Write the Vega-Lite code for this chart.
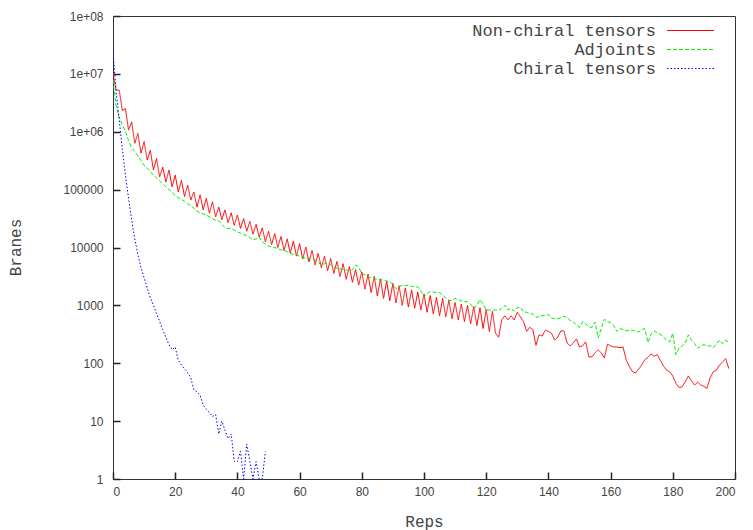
{
  "$schema": "https://vega.github.io/schema/vega-lite/v6.json",
  "width": 622,
  "height": 463,
  "autosize": {"type": "none"},
  "padding": {"left": 113, "top": 16, "right": 18, "bottom": 51},
  "background": "white",
  "config": {
    "view": {"stroke": "#333333", "strokeWidth": 1},
    "axis": {"grid": false, "labelColor": "#444444", "labelFont": "Liberation Sans", "labelFontSize": 12, "titleColor": "#444444", "titleFont": "Liberation Mono", "titleFontSize": 16, "titleFontWeight": "normal"}
  },
  "data": {"values": [
    {"r":0,"n":10000000,"a":7940000,"c":25000000},
    {"r":1,"n":5250000,"a":2820000,"c":5000000},
    {"r":2,"n":5250000,"a":1780000,"c":1600000},
    {"r":3,"n":2340000,"a":1320000,"c":500000},
    {"r":4,"n":2510000,"a":1000000,"c":178000},
    {"r":5,"n":1070000,"a":708000,"c":71000},
    {"r":6,"n":1480000,"a":525000,"c":30000},
    {"r":7,"n":631000,"a":457000,"c":14000},
    {"r":8,"n":933000,"a":380000,"c":7600},
    {"r":9,"n":427000,"a":316000,"c":4470},
    {"r":10,"n":676000,"a":263000,"c":3000},
    {"r":11,"n":324000,"a":234000,"c":2000},
    {"r":12,"n":479000,"a":204000,"c":1350},
    {"r":13,"n":219000,"a":178000,"c":1000},
    {"r":14,"n":347000,"a":158000,"c":720},
    {"r":15,"n":166000,"a":141000,"c":525},
    {"r":16,"n":245000,"a":126000,"c":380},
    {"r":17,"n":135000,"a":112000,"c":280},
    {"r":18,"n":219000,"a":100000,"c":210},
    {"r":19,"n":112000,"a":89100,"c":170},
    {"r":20,"n":178000,"a":79400,"c":190},
    {"r":21,"n":91200,"a":72400,"c":112},
    {"r":22,"n":145000,"a":67600,"c":93},
    {"r":23,"n":75900,"a":63100,"c":80},
    {"r":24,"n":120000,"a":57500,"c":69},
    {"r":25,"n":66100,"a":52500,"c":56},
    {"r":26,"n":91200,"a":47900,"c":35},
    {"r":27,"n":50100,"a":42700,"c":32},
    {"r":28,"n":81300,"a":39800,"c":28},
    {"r":29,"n":44700,"a":38000,"c":19},
    {"r":30,"n":70800,"a":36300,"c":16},
    {"r":31,"n":38900,"a":33900,"c":14},
    {"r":32,"n":61700,"a":31600,"c":12},
    {"r":33,"n":33900,"a":29500,"c":13},
    {"r":34,"n":50100,"a":28800,"c":6},
    {"r":35,"n":30200,"a":25100,"c":10},
    {"r":36,"n":44700,"a":21900,"c":7},
    {"r":37,"n":26900,"a":21400,"c":5},
    {"r":38,"n":39800,"a":21400,"c":6},
    {"r":39,"n":24000,"a":20000,"c":2},
    {"r":40,"n":36300,"a":18600,"c":2},
    {"r":41,"n":21400,"a":17800,"c":3},
    {"r":42,"n":31600,"a":16600,"c":1},
    {"r":43,"n":19100,"a":16200,"c":4},
    {"r":44,"n":28200,"a":14800,"c":2},
    {"r":45,"n":17000,"a":13500,"c":1},
    {"r":46,"n":25100,"a":14100,"c":2},
    {"r":47,"n":15100,"a":15100,"c":1},
    {"r":48,"n":21900,"a":12600,"c":1},
    {"r":49,"n":12600,"a":11500,"c":3},
    {"r":50,"n":19100,"a":10700},
    {"r":51,"n":11200,"a":10200},
    {"r":52,"n":17400,"a":10000},
    {"r":53,"n":10000,"a":9550},
    {"r":54,"n":15500,"a":9120},
    {"r":55,"n":8910,"a":8910},
    {"r":56,"n":14100,"a":8510},
    {"r":57,"n":7940,"a":7940},
    {"r":58,"n":12900,"a":7590},
    {"r":59,"n":7080,"a":7410},
    {"r":60,"n":11700,"a":7080},
    {"r":61,"n":6310,"a":6760},
    {"r":62,"n":10200,"a":6460},
    {"r":63,"n":5620,"a":6310},
    {"r":64,"n":8910,"a":6170},
    {"r":65,"n":5010,"a":6030},
    {"r":66,"n":7940,"a":5500},
    {"r":67,"n":4470,"a":5010},
    {"r":68,"n":7080,"a":5250},
    {"r":69,"n":3980,"a":5370},
    {"r":70,"n":6460,"a":5010},
    {"r":71,"n":3550,"a":4570},
    {"r":72,"n":5750,"a":4370},
    {"r":73,"n":3160,"a":4270},
    {"r":74,"n":5250,"a":4170},
    {"r":75,"n":2820,"a":4070},
    {"r":76,"n":4680,"a":3980},
    {"r":77,"n":2510,"a":4170},
    {"r":78,"n":4170,"a":5010},
    {"r":79,"n":2240,"a":4570},
    {"r":80,"n":3800,"a":3550},
    {"r":81,"n":1910,"a":3390},
    {"r":82,"n":3470,"a":3160},
    {"r":83,"n":1660,"a":2950},
    {"r":84,"n":3160,"a":2880},
    {"r":85,"n":1450,"a":2820},
    {"r":86,"n":2880,"a":2750},
    {"r":87,"n":1320,"a":2750},
    {"r":88,"n":2630,"a":2630},
    {"r":89,"n":1200,"a":2570},
    {"r":90,"n":2400,"a":2290},
    {"r":91,"n":1100,"a":1950},
    {"r":92,"n":2190,"a":2090},
    {"r":93,"n":1000,"a":2240},
    {"r":94,"n":2000,"a":2190},
    {"r":95,"n":933,"a":2240},
    {"r":96,"n":1860,"a":2140},
    {"r":97,"n":891,"a":2090},
    {"r":98,"n":1700,"a":2090},
    {"r":99,"n":832,"a":1780},
    {"r":100,"n":1580,"a":1410},
    {"r":101,"n":759,"a":1580},
    {"r":102,"n":1480,"a":1740},
    {"r":103,"n":708,"a":1700},
    {"r":104,"n":1380,"a":1660},
    {"r":105,"n":661,"a":1660},
    {"r":106,"n":1320,"a":1510},
    {"r":107,"n":631,"a":1350},
    {"r":108,"n":1230,"a":1230},
    {"r":109,"n":589,"a":1200},
    {"r":110,"n":1120,"a":1320},
    {"r":111,"n":562,"a":1260},
    {"r":112,"n":1050,"a":1200},
    {"r":113,"n":525,"a":1170},
    {"r":114,"n":1000,"a":1150},
    {"r":115,"n":479,"a":1050},
    {"r":116,"n":955,"a":891},
    {"r":117,"n":447,"a":1000},
    {"r":118,"n":912,"a":1260},
    {"r":119,"n":398,"a":1050},
    {"r":120,"n":851,"a":832},
    {"r":121,"n":355,"a":832},
    {"r":122,"n":794,"a":832},
    {"r":123,"n":331,"a":832},
    {"r":124,"n":282,"a":813},
    {"r":125,"n":562,"a":891},
    {"r":126,"n":661,"a":1000},
    {"r":127,"n":562,"a":832},
    {"r":128,"n":661,"a":891},
    {"r":129,"n":562,"a":794},
    {"r":130,"n":759,"a":912},
    {"r":131,"n":631,"a":933},
    {"r":132,"n":525,"a":776},
    {"r":133,"n":355,"a":759},
    {"r":134,"n":417,"a":724},
    {"r":135,"n":380,"a":708},
    {"r":136,"n":204,"a":617},
    {"r":137,"n":309,"a":646},
    {"r":138,"n":295,"a":661},
    {"r":139,"n":372,"a":676},
    {"r":140,"n":355,"a":692},
    {"r":141,"n":331,"a":603},
    {"r":142,"n":251,"a":589},
    {"r":143,"n":282,"a":589},
    {"r":144,"n":363,"a":617},
    {"r":145,"n":363,"a":646},
    {"r":146,"n":224,"a":617},
    {"r":147,"n":200,"a":550},
    {"r":148,"n":224,"a":525},
    {"r":149,"n":263,"a":457},
    {"r":150,"n":191,"a":417},
    {"r":151,"n":200,"a":525},
    {"r":152,"n":234,"a":479},
    {"r":153,"n":129,"a":427},
    {"r":154,"n":129,"a":417},
    {"r":155,"n":151,"a":513},
    {"r":156,"n":170,"a":275},
    {"r":157,"n":151,"a":398},
    {"r":158,"n":123,"a":575},
    {"r":159,"n":214,"a":525},
    {"r":160,"n":200,"a":501},
    {"r":161,"n":191,"a":447},
    {"r":162,"n":191,"a":355},
    {"r":163,"n":186,"a":398},
    {"r":164,"n":191,"a":380},
    {"r":165,"n":115,"a":363},
    {"r":166,"n":89,"a":372},
    {"r":167,"n":72,"a":372},
    {"r":168,"n":68,"a":355},
    {"r":169,"n":79,"a":347},
    {"r":170,"n":93,"a":380},
    {"r":171,"n":115,"a":398},
    {"r":172,"n":126,"a":229},
    {"r":173,"n":145,"a":316},
    {"r":174,"n":132,"a":363},
    {"r":175,"n":141,"a":339},
    {"r":176,"n":112,"a":316},
    {"r":177,"n":89,"a":282},
    {"r":178,"n":76,"a":251},
    {"r":179,"n":71,"a":234},
    {"r":180,"n":60,"a":331},
    {"r":181,"n":45,"a":141},
    {"r":182,"n":38,"a":182},
    {"r":183,"n":39,"a":200},
    {"r":184,"n":48,"a":224},
    {"r":185,"n":60,"a":309},
    {"r":186,"n":50,"a":251},
    {"r":187,"n":42,"a":219},
    {"r":188,"n":47,"a":182},
    {"r":189,"n":42,"a":200},
    {"r":190,"n":40,"a":209},
    {"r":191,"n":37,"a":200},
    {"r":192,"n":56,"a":200},
    {"r":193,"n":71,"a":186},
    {"r":194,"n":76,"a":214},
    {"r":195,"n":93,"a":251},
    {"r":196,"n":105,"a":219},
    {"r":197,"n":120,"a":251},
    {"r":198,"n":81,"a":229}
  ]},
  "transform": [{"fold": ["n", "a", "c"], "as": ["s", "v"]}],
  "mark": {"type": "line", "strokeWidth": 1, "clip": true},
  "encoding": {
    "x": {"field": "r", "type": "quantitative", "scale": {"domain": [0, 200], "nice": false},
      "axis": {"orient": "bottom", "offset": -7, "tickSize": 7, "tickColor": "#222222", "tickWidth": 1.5, "domain": false, "values": [0,20,40,60,80,100,120,140,160,180,200], "labelPadding": 7, "labelDx": 3, "title": "Reps", "titleY": 49, "titleBaseline": "middle"}},
    "y": {"field": "v", "type": "quantitative", "scale": {"type": "log", "domain": [1, 100000000], "nice": false},
      "axis": {"orient": "left", "offset": -7, "tickSize": 7, "tickColor": "#222222", "tickWidth": 1.5, "domain": false,
        "values": [1,10,100,1000,10000,100000,1000000,10000000,100000000],
        "labelPadding": 10,
        "labelExpr": "datum.value >= 1000000 ? '1e+0' + round(log(datum.value)/LN10) : format(datum.value, 'd')",
        "title": "Branes", "titleX": -105, "titleY": 231, "titleAngle": 270, "titleAlign": "center", "titleBaseline": "middle"}},
    "color": {"field": "s", "type": "nominal",
      "scale": {"domain": ["n", "a", "c"], "range": ["#ff0000", "#00ee00", "#0000ff"]},
      "legend": {"title": null, "orient": "none", "legendX": 569, "legendY": 6, "padding": 0, "symbolType": "M-4,0H4", "symbolSize": 138, "symbolStrokeWidth": 1, "labelAlign": "right", "labelOffset": -43, "labelFont": "Liberation Mono", "labelFontSize": 17, "labelColor": "#444444", "rowPadding": 1, "labelLimit": 400,
        "labelExpr": "datum.label == 'n' ? 'Non-chiral tensors' : (datum.label == 'a' ? 'Adjoints' : 'Chiral tensors')",
        "encode": {"symbols": {"update": {"stroke": {"scale": "color", "field": "value"}, "fill": {"value": "transparent"}}}}}},
    "strokeDash": {"field": "s", "type": "nominal",
      "scale": {"domain": ["n", "a", "c"], "range": [[1, 0], [4, 2], [1.5, 2]]},
      "legend": {"title": null, "orient": "none", "legendX": 569, "legendY": 6, "padding": 0, "symbolType": "M-4,0H4", "symbolSize": 138, "symbolStrokeWidth": 1, "labelAlign": "right", "labelOffset": -43, "labelFont": "Liberation Mono", "labelFontSize": 17, "labelColor": "#444444", "rowPadding": 1, "labelLimit": 400,
        "labelExpr": "datum.label == 'n' ? 'Non-chiral tensors' : (datum.label == 'a' ? 'Adjoints' : 'Chiral tensors')",
        "encode": {"symbols": {"update": {"stroke": {"scale": "color", "field": "value"}, "fill": {"value": "transparent"}}}}}}
  }
}
